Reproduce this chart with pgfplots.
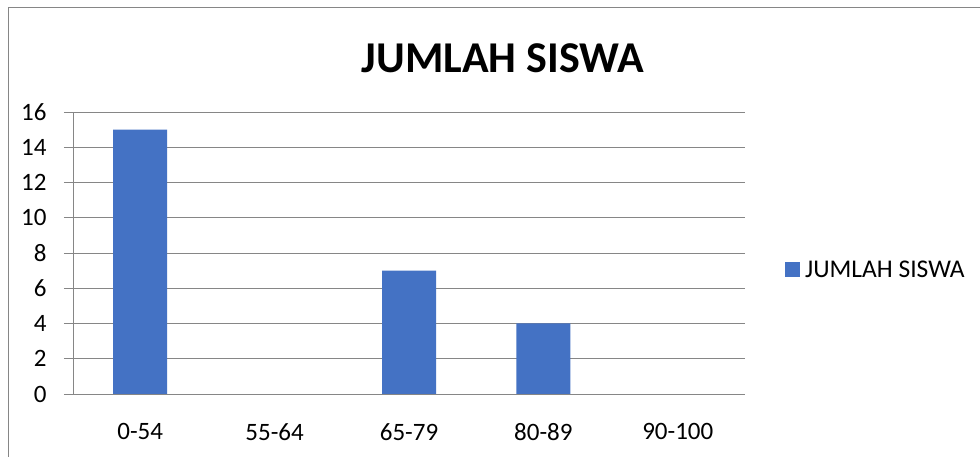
\documentclass[border=0pt]{standalone}
\usepackage{fontspec}
\setmainfont{Carlito}
\usepackage{pgfplots}
\pgfplotsset{compat=1.18}
\definecolor{barblue}{HTML}{4472C4}
\definecolor{gridgray}{HTML}{868686}
\begin{document}
\begin{tikzpicture}[x=1pt,y=1pt]
\clip (0,0) rectangle (980,457);
\fill[white] (0,0) rectangle (980,457);
% chart frame
\draw[gridgray,line width=1pt] (8.5,-2) -- (8.5,449.5) -- (990,449.5);
% title
\node[font=\bfseries\fontsize{44}{50}\selectfont] at (503,399) {JUMLAH SISWA};
\begin{axis}[
  at={(73pt,63pt)}, anchor=south west,
  scale only axis, width=672pt, height=282pt,
  xmin=-0.5, xmax=4.5, ymin=0, ymax=16,
  ytick={0,2,...,16},
  xtick={0,1,2,3,4},
  xticklabels={0-54,55-64,65-79,80-89,90-100},
  axis x line*=bottom, axis y line*=left,
  axis line style={gridgray, line width=0.8pt, -},
  ymajorgrids, grid style={gridgray, line width=0.8pt},
  tick align=outside, major tick length=9pt,
  tick style={gridgray, line width=0.8pt},
  major x tick style={draw=none},
  extra x ticks={-0.5,0.5,1.5,2.5,3.5,4.5},
  extra x tick labels={},
  extra x tick style={grid=none, major x tick style={gridgray, line width=0.8pt}},
  ticklabel style={font=\fontsize{25}{29}\selectfont, text=black},
  /pgf/number format/assume math mode=true,
  yticklabel style={xshift=-14pt},
  xticklabel style={yshift=-17pt},
  legend style={at={(1.0595,0.44)}, anchor=west, draw=none, fill=none,
    font=\fontsize{25.5}{29}\selectfont, inner sep=0pt},
  legend image code/.code={\fill[barblue] (0pt,-7.5pt) rectangle (15pt,7.5pt);},
  legend cell align=left,
]
\addplot[ybar, bar width=54pt, fill=barblue, draw=none] coordinates {(0,15) (2,7) (3,4)};
\addlegendentry{\hspace{3pt}JUMLAH SISWA}
\end{axis}
\end{tikzpicture}
\end{document}
